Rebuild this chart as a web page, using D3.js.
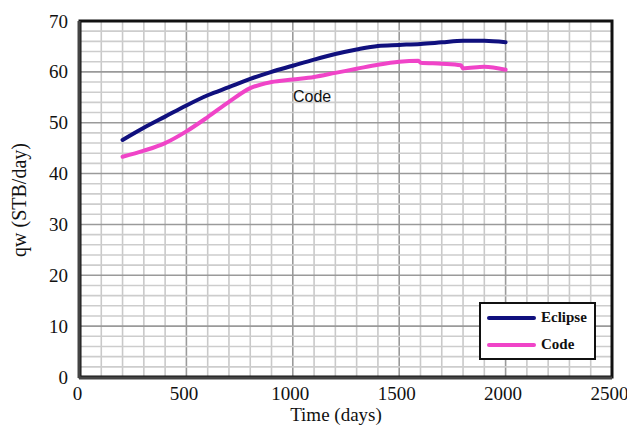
<!DOCTYPE html>
<html>
<head>
<meta charset="utf-8">
<script src="https://cdn.jsdelivr.net/npm/d3@7"></script>
<style>
  html, body { margin: 0; padding: 0; background: #fff; }
  svg { display: block; }
</style>
</head>
<body>
<svg id="chart" width="627" height="431"></svg>
<script>
// ---- data ----
const eclipseTime = [200, 300, 400, 500, 600, 700, 800, 900, 1000, 1100, 1200, 1300, 1400, 1500, 1600, 1700, 1800, 1900, 2000];
const eclipseRate = [46.6, 49.0, 51.2, 53.4, 55.4, 57.0, 58.6, 60.0, 61.2, 62.4, 63.5, 64.4, 65.1, 65.3, 65.5, 65.8, 66.1, 66.1, 65.8];
const codeTime = [200, 300, 400, 500, 600, 700, 800, 900, 1000, 1100, 1200, 1300, 1400, 1500, 1590, 1600, 1700, 1790, 1800, 1900, 2000];
const codeRate = [43.3, 44.5, 46.0, 48.3, 51.1, 54.1, 56.8, 58.0, 58.5, 59.0, 59.8, 60.6, 61.4, 62.0, 62.2, 61.8, 61.6, 61.3, 60.7, 61.0, 60.4];
const xTicks = [0, 500, 1000, 1500, 2000, 2500];
const yTicks = [0, 10, 20, 30, 40, 50, 60, 70];
const seriesNames = ["Eclipse", "Code"];
const seriesColors = ["#10107e", "#f044c8"];

// ---- layout ----
const svg = d3.select("#chart");
const L = 80, R = 612, T = 21, B = 377;
const x = d3.scaleLinear().domain([0, 2500]).range([L, R]);
const y = d3.scaleLinear().domain([0, 70]).range([B, T]);

// grid
const g = svg.append("g");
g.selectAll(".vminor").data(d3.range(100, 2500, 100)).join("line")
  .attr("x1", d => x(d)).attr("x2", d => x(d)).attr("y1", T).attr("y2", B)
  .attr("stroke", d => d % 500 === 0 ? "#9a9a9a" : "#c9c9c9")
  .attr("stroke-width", 1.6);
g.selectAll(".hminor").data(d3.range(2, 70, 2)).join("line")
  .attr("x1", L).attr("x2", R).attr("y1", d => y(d)).attr("y2", d => y(d))
  .attr("stroke", d => d % 10 === 0 ? "#9a9a9a" : "#cdcdcd")
  .attr("stroke-width", 1.6);

// axes (labels only)
const xAxis = svg.append("g").attr("transform", `translate(0,${B})`)
  .call(d3.axisBottom(x).tickValues(xTicks).tickSize(0).tickPadding(10).tickFormat(d3.format("d")));
xAxis.select(".domain").remove();
xAxis.selectAll("text").attr("font-family", "Liberation Serif, serif").attr("font-size", 19)
  .attr("fill", "#111").attr("dx", -3);

const yAxis = svg.append("g").attr("transform", `translate(${L},0)`)
  .call(d3.axisLeft(y).tickValues(yTicks).tickSize(0).tickPadding(12).tickFormat(d3.format("d")));
yAxis.select(".domain").remove();
yAxis.selectAll("text").attr("font-family", "Liberation Serif, serif").attr("font-size", 19)
  .attr("fill", "#111");

// lines
const line = d3.line().x(d => x(d[0])).y(d => y(d[1])).curve(d3.curveMonotoneX);
const series = [
  d3.zip(eclipseTime, eclipseRate),
  d3.zip(codeTime, codeRate)
];
svg.selectAll(".series").data(series).join("path")
  .attr("d", line).attr("fill", "none")
  .attr("stroke", (d, i) => seriesColors[i]).attr("stroke-width", 4)
  .attr("stroke-linejoin", "round").attr("stroke-linecap", "round");

// frame
svg.append("rect").attr("x", L).attr("y", T).attr("width", R - L).attr("height", B - T)
  .attr("fill", "none").attr("stroke", "#111").attr("stroke-width", 3);
svg.append("line").attr("x1", L - 1).attr("x2", L - 1).attr("y1", T).attr("y2", B + 1)
  .attr("stroke", "#444").attr("stroke-width", 3);
svg.append("line").attr("x1", L - 1).attr("x2", R).attr("y1", B + 1).attr("y2", B + 1)
  .attr("stroke", "#444").attr("stroke-width", 3);

// annotation
svg.append("text").attr("x", 293).attr("y", 102).text("Code")
  .attr("font-family", "Liberation Sans, Arial, sans-serif").attr("font-size", 16).attr("fill", "#111");

// legend
const lg = svg.append("g");
lg.append("rect").attr("x", 480).attr("y", 303).attr("width", 115).attr("height", 56)
  .attr("fill", "#fff").attr("stroke", "#111").attr("stroke-width", 2);
seriesNames.forEach((name, i) => {
  const yy = 318 + i * 27;
  lg.append("line").attr("x1", 489).attr("x2", 534).attr("y1", yy).attr("y2", yy)
    .attr("stroke", seriesColors[i]).attr("stroke-width", 4).attr("stroke-linecap", "round");
  lg.append("text").attr("x", 541).attr("y", yy + 4).text(name)
    .attr("font-family", "Liberation Serif, serif").attr("font-weight", "bold")
    .attr("font-size", 15).attr("fill", "#111");
});

// axis titles
svg.append("text").attr("x", 336).attr("y", 421).attr("text-anchor", "middle")
  .text("Time (days)").attr("font-family", "Liberation Serif, serif").attr("font-size", 19).attr("fill", "#111");
svg.append("text").attr("transform", "translate(26,200) rotate(-90)").attr("text-anchor", "middle")
  .text("qw (STB/day)").attr("font-family", "Liberation Serif, serif").attr("font-size", 20).attr("fill", "#111");
</script>
</body>
</html>
